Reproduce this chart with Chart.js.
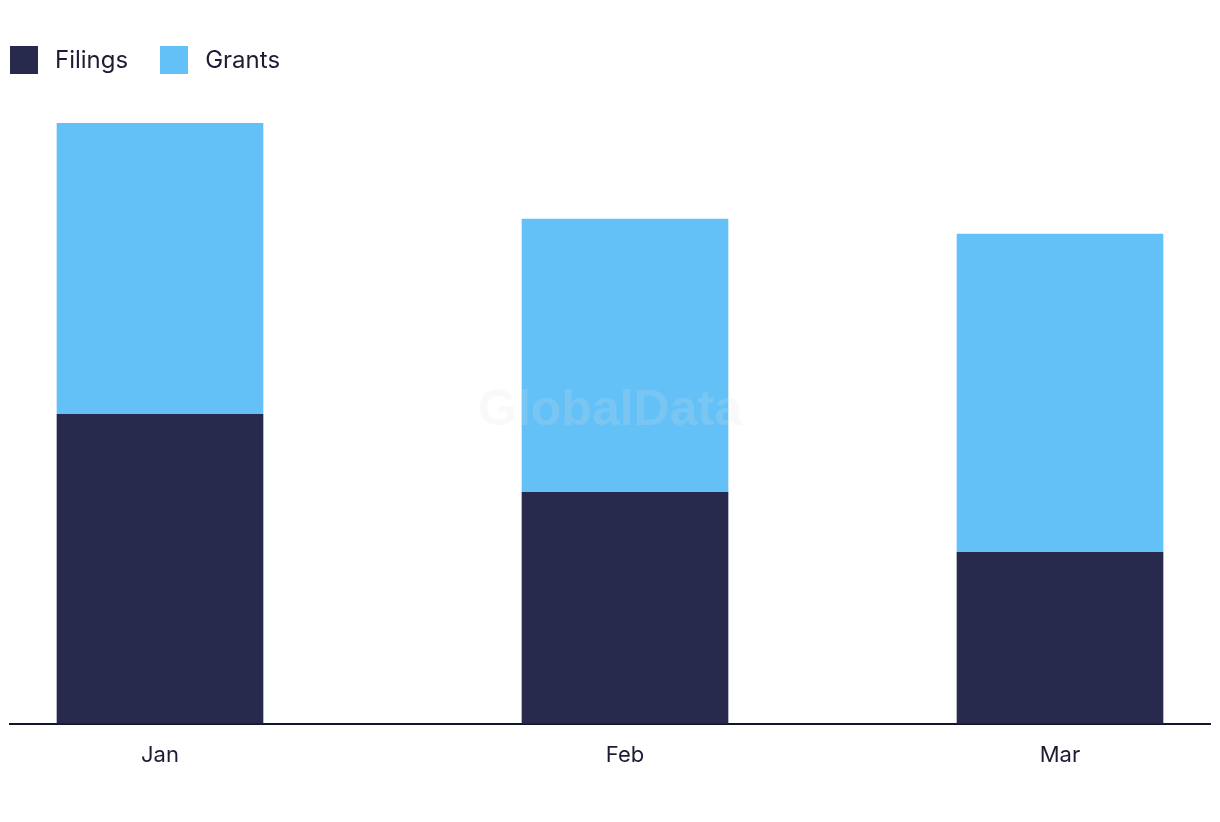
<!DOCTYPE html>
<html>
<head>
<meta charset="utf-8">
<script src="https://cdn.jsdelivr.net/npm/chart.js@4/dist/chart.umd.min.js"></script>
<style>
  body { margin: 0; background: #fff; font-family: Inter, "Noto Sans", sans-serif; }
  #wrap { position: relative; width: 1220px; height: 822px; }
  #legend { position: absolute; left: 10px; top: 45px; display: flex; align-items: center; font-size: 24px; color: #1c1d35; }
  .item { display: flex; align-items: center; margin-right: 32px; }
  .box { width: 28px; height: 28px; margin-right: 17px; }
</style>
</head>
<body>
<div id="wrap">
  <div id="legend"></div>
  <canvas id="chart" width="1220" height="822"></canvas>
</div>
<script>
let categories = ['Jan', 'Feb', 'Mar'];
let categoryDates = ['2024-01-01', '2024-02-01', '2024-03-01'];
let filings = [103, 77, 57];
let grants = [97, 91, 106];
let seriesNames = ['Filings', 'Grants'];
let colors = ['#272a4c', '#63c1f8'];

// days from the first month, so the bars sit like on a time axis
let day0 = Date.parse(categoryDates[0]);
let days = categoryDates.map(d => Math.round((Date.parse(d) - day0) / 86400000));

let legend = document.getElementById('legend');
seriesNames.forEach((name, i) => {
  let el = document.createElement('div');
  el.className = 'item';
  el.innerHTML = '<span class="box" style="background:' + colors[i] + '"></span>' + name;
  legend.appendChild(el);
});

let watermark = {
  id: 'watermark',
  afterDatasetsDraw(chart) {
    let c = chart.ctx;
    c.save();
    c.font = 'bold 50px "Liberation Sans", Arial, sans-serif';
    c.fillStyle = 'rgba(220,220,220,0.18)';
    c.textAlign = 'center';
    c.textBaseline = 'middle';
    c.fillText('GlobalData', 610, 411);
    c.restore();
  }
};

let ctx = document.getElementById('chart').getContext('2d');
new Chart(ctx, {
  type: 'bar',
  data: {
    datasets: [
      { label: seriesNames[0], data: days.map((d, i) => ({ x: d, y: filings[i] })), backgroundColor: colors[0] },
      { label: seriesNames[1], data: days.map((d, i) => ({ x: d, y: grants[i] })), backgroundColor: colors[1] }
    ]
  },
  options: {
    responsive: false,
    animation: false,
    grouped: false,
    barThickness: 206,
    layout: { padding: { left: 10, right: 10, top: 123, bottom: 34 } },
    plugins: { legend: { display: false }, tooltip: { enabled: false } },
    scales: {
      x: {
        type: 'linear',
        offset: false,
        min: -10,
        max: 70,
        grid: { display: false, drawTicks: false },
        border: { display: true, color: '#14142b', width: 2 },
        afterBuildTicks: axis => { axis.ticks = days.map(d => ({ value: d })); },
        ticks: {
          padding: 19,
          color: '#1c1d35',
          font: { family: 'Inter', size: 22 },
          callback: v => categories[days.indexOf(v)]
        }
      },
      y: {
        display: false,
        stacked: true,
        min: 0,
        max: 200
      }
    }
  },
  plugins: [watermark]
});
</script>
</body>
</html>
